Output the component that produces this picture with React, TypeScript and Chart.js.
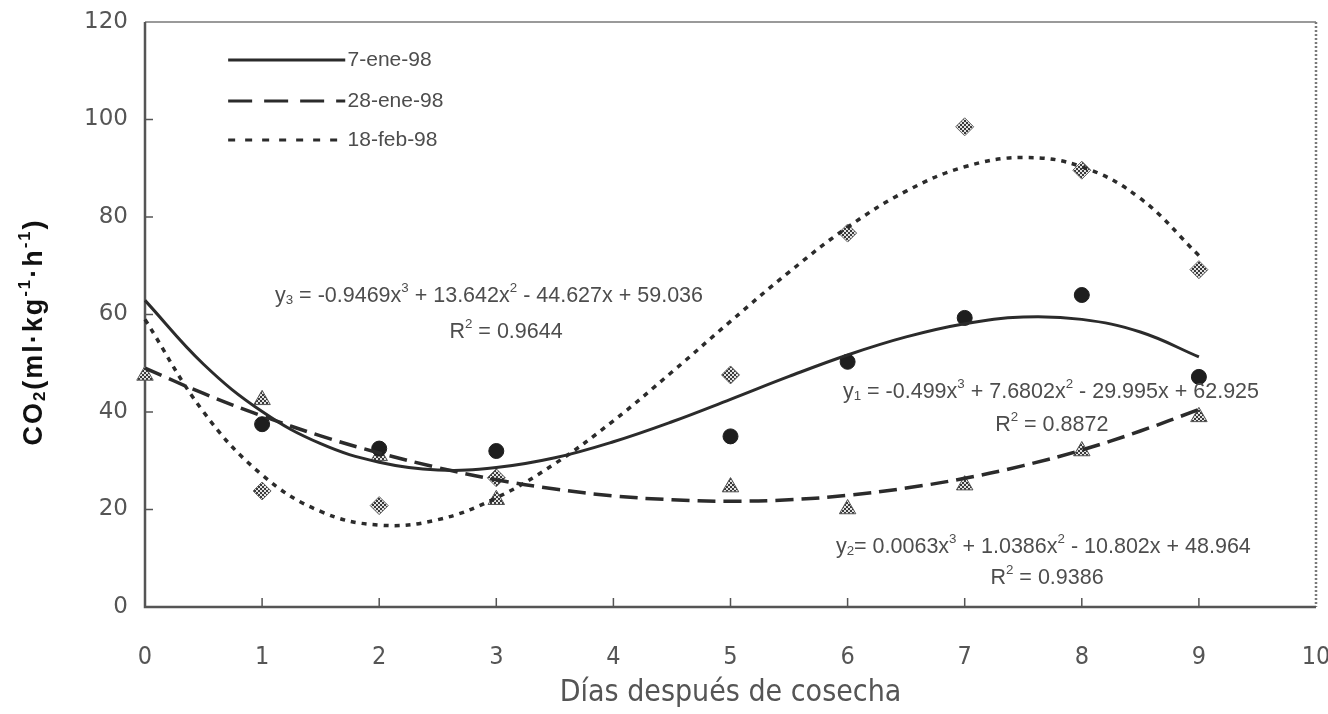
import React, { useEffect, useRef } from 'react';
import { Chart, registerables } from 'chart.js';

Chart.register(...registerables);

// ---- Data ----
const days7ene = [1, 2, 3, 5, 6, 7, 8, 9];
const co2_7ene = [37.5, 32.5, 32, 35, 50.3, 59.3, 64, 47.2];

const days28ene = [0, 1, 2, 3, 5, 6, 7, 8, 9];
const co2_28ene = [47.5, 42.5, 31, 22, 24.6, 20.1, 25, 32, 39];

const days18feb = [1, 2, 3, 5, 6, 7, 8, 9];
const co2_18feb = [23.8, 20.8, 26.5, 47.6, 76.7, 98.5, 89.6, 69.2];

// trend curves at half-day steps
const trendX = [0, 0.5, 1, 1.5, 2, 2.5, 3, 3.5, 4, 4.5, 5, 5.5, 6, 6.5, 7, 7.5, 8, 8.5, 9];
const trend7ene = [62.9, 49.8, 40.1, 33.5, 29.7, 28.1, 28.6, 30.6, 33.9, 38.0, 42.6, 47.3, 51.7, 55.4, 58.1, 59.5, 59.0, 56.4, 51.3];
const trend28ene = [49.0, 43.8, 39.2, 35.1, 31.6, 28.6, 26.1, 24.2, 22.8, 22.0, 21.7, 22.0, 22.9, 24.4, 26.4, 29.0, 32.2, 36.1, 40.5];
const trend18feb = [59.0, 40.0, 27.1, 19.6, 16.8, 17.9, 22.4, 29.4, 38.2, 48.2, 58.6, 68.7, 77.9, 85.3, 90.3, 92.2, 90.3, 83.8, 72.1];

const seriesLabels = ['7-ene-98', '28-ene-98', '18-feb-98'];
const xTitle = 'Días después de cosecha';

type Seg = [string, number]; // 0 normal, 1 superscript, -1 subscript
const yTitleSegs: Seg[] = [['CO', 0], ['2', -1], ['(ml·kg', 0], ['-1', 1], ['·h', 0], ['-1', 1], [')', 0]];
const eq3Segs: Seg[] = [['y', 0], ['3', -1], [' = -0.9469x', 0], ['3', 1], [' + 13.642x', 0], ['2', 1], [' - 44.627x + 59.036', 0]];
const r3Segs: Seg[] = [['R', 0], ['2', 1], [' = 0.9644', 0]];
const eq1Segs: Seg[] = [['y', 0], ['1', -1], [' = -0.499x', 0], ['3', 1], [' + 7.6802x', 0], ['2', 1], [' - 29.995x + 62.925', 0]];
const r1Segs: Seg[] = [['R', 0], ['2', 1], [' = 0.8872', 0]];
const eq2Segs: Seg[] = [['y', 0], ['2', -1], ['= 0.0063x', 0], ['3', 1], [' + 1.0386x', 0], ['2', 1], [' - 10.802x + 48.964', 0]];
const r2Segs: Seg[] = [['R', 0], ['2', 1], [' = 0.9386', 0]];

const INK = '#2b2b2b';
const TEXT = '#4d4d4d';
const FONT = '"Liberation Sans", Arial, sans-serif';
const NARROW = '"DejaVu Sans Condensed", "Liberation Sans Narrow", "Arial Narrow", "Liberation Sans", sans-serif';

function segWidth(ctx: CanvasRenderingContext2D, segs: Seg[], size: number, weight: string, family: string, spacing: number) {
  let w = 0;
  for (const [t, k] of segs) {
    const fs = k === 0 ? size : size * 0.62;
    ctx.font = `${weight} ${fs}px ${family}`;
    w += ctx.measureText(t).width + spacing * t.length;
  }
  return w;
}

function drawRich(ctx: CanvasRenderingContext2D, segs: Seg[], x: number, y: number, size: number, weight: string, family: string, color: string, spacing = 0) {
  ctx.fillStyle = color;
  ctx.textBaseline = 'middle';
  ctx.textAlign = 'left';
  (ctx as any).letterSpacing = `${spacing}px`;
  let cx = x;
  for (const [t, k] of segs) {
    const fs = k === 0 ? size : size * 0.62;
    ctx.font = `${weight} ${fs}px ${family}`;
    const dy = k === 1 ? -size * 0.36 : k === -1 ? size * 0.2 : 0;
    ctx.fillText(t, cx, y + dy);
    cx += ctx.measureText(t).width;
  }
  (ctx as any).letterSpacing = '0px';
}

function makePattern(): CanvasPattern | string {
  const c = document.createElement('canvas');
  c.width = 4;
  c.height = 4;
  const g = c.getContext('2d');
  if (!g) return '#888';
  g.fillStyle = '#e2e2e2';
  g.fillRect(0, 0, 4, 4);
  g.fillStyle = '#3a3a3a';
  g.fillRect(0, 0, 2, 2);
  g.fillRect(2, 2, 2, 2);
  return g.createPattern(c, 'repeat') || '#888';
}

const decorPlugin = {
  id: 'decor',
  beforeDatasetsDraw(chart: any) {
    const { ctx, chartArea: a, scales } = chart;
    const xs = scales.x;
    const ys = scales.y;
    ctx.save();
    ctx.lineCap = 'butt';
    ctx.strokeStyle = '#9a9a9a';
    ctx.lineWidth = 2;
    ctx.beginPath();
    ctx.moveTo(a.left, a.top);
    ctx.lineTo(a.right, a.top);
    ctx.stroke();
    ctx.setLineDash([2, 2]);
    ctx.strokeStyle = '#7a7a7a';
    ctx.lineWidth = 2.5;
    ctx.beginPath();
    ctx.moveTo(a.right, a.top);
    ctx.lineTo(a.right, a.bottom);
    ctx.stroke();
    ctx.setLineDash([]);
    ctx.strokeStyle = '#555';
    ctx.lineWidth = 2.5;
    ctx.beginPath();
    ctx.moveTo(a.left, a.top);
    ctx.lineTo(a.left, a.bottom);
    ctx.lineTo(a.right, a.bottom);
    ctx.stroke();
    ctx.lineWidth = 1.5;
    ctx.strokeStyle = '#555';
    ctx.beginPath();
    for (let v = 1; v <= 9; v++) {
      const px = xs.getPixelForValue(v);
      ctx.moveTo(px, a.bottom);
      ctx.lineTo(px, a.bottom - 9);
    }
    for (let v = 20; v <= 100; v += 20) {
      const py = ys.getPixelForValue(v);
      ctx.moveTo(a.left, py);
      ctx.lineTo(a.left + 8, py);
    }
    ctx.stroke();
    ctx.restore();
  },
  afterDraw(chart: any) {
    const { ctx, scales } = chart;
    const xs = scales.x;
    const ys = scales.y;
    const X = (v: number) => xs.getPixelForValue(v);
    const Y = (v: number) => ys.getPixelForValue(v);
    ctx.save();
    const legendRows = [112.2, 103.8, 95.8];
    const dashes = [[], [24, 12], [7, 10]];
    legendRows.forEach((yv, i) => {
      const py = Y(yv);
      ctx.strokeStyle = INK;
      ctx.lineWidth = 3;
      ctx.setLineDash(dashes[i]);
      ctx.beginPath();
      ctx.moveTo(X(0.71), py);
      ctx.lineTo(X(1.71), py);
      ctx.stroke();
      ctx.setLineDash([]);
      ctx.fillStyle = TEXT;
      ctx.font = `21px ${FONT}`;
      ctx.textBaseline = 'middle';
      ctx.textAlign = 'left';
      ctx.fillText(seriesLabels[i], X(1.73), py);
    });
    const eqSize = 21.5;
    drawRich(ctx, eq3Segs, X(1.11), Y(63.8), eqSize, '', FONT, TEXT);
    drawRich(ctx, r3Segs, X(2.6), Y(56.4), eqSize, '', FONT, TEXT);
    drawRich(ctx, eq1Segs, X(5.96), Y(44.1), eqSize, '', FONT, TEXT);
    drawRich(ctx, r1Segs, X(7.26), Y(37.3), eqSize, '', FONT, TEXT);
    drawRich(ctx, eq2Segs, X(5.9), Y(12.3), eqSize, '', FONT, TEXT);
    drawRich(ctx, r2Segs, X(7.22), Y(5.9), eqSize, '', FONT, TEXT);
    const tSize = 27;
    const sp = 2;
    const w = segWidth(ctx, yTitleSegs, tSize, 'bold', FONT, sp);
    ctx.translate(35, 332);
    ctx.rotate(-Math.PI / 2);
    drawRich(ctx, yTitleSegs, -w / 2, 0, tSize, 'bold', FONT, '#111', sp);
    ctx.restore();
  },
};

export default function App() {
  const ref = useRef<HTMLCanvasElement | null>(null);
  useEffect(() => {
    document.body.style.margin = '0';
    if (!ref.current) return;
    const pattern = makePattern();
    const pts = (xs: number[], ys: number[]) => xs.map((x, i) => ({ x, y: ys[i] }));
    const chart = new Chart(ref.current, {
      type: 'scatter',
      data: {
        datasets: [
          {
            type: 'line',
            label: seriesLabels[0],
            data: pts(trendX, trend7ene),
            borderColor: INK,
            borderWidth: 3,
            pointRadius: 0,
            tension: 0.4,
            fill: false,
            clip: false,
          } as any,
          {
            type: 'line',
            label: seriesLabels[1],
            data: pts(trendX, trend28ene),
            borderColor: INK,
            borderWidth: 3.5,
            borderDash: [18, 8],
            pointRadius: 0,
            tension: 0.4,
            fill: false,
            clip: false,
          } as any,
          {
            type: 'line',
            label: seriesLabels[2],
            data: pts(trendX, trend18feb),
            borderColor: INK,
            borderWidth: 3.5,
            borderDash: [5, 6],
            pointRadius: 0,
            tension: 0.4,
            fill: false,
            clip: false,
          } as any,
          {
            label: seriesLabels[0] + ' obs',
            data: pts(days7ene, co2_7ene),
            pointStyle: 'circle',
            pointRadius: 7.5,
            backgroundColor: '#1e1e1e',
            borderColor: '#1e1e1e',
            borderWidth: 1,
            clip: false,
          } as any,
          {
            label: seriesLabels[1] + ' obs',
            data: pts(days28ene, co2_28ene),
            pointStyle: 'triangle',
            pointRadius: 9.5,
            backgroundColor: pattern,
            borderColor: '#555',
            borderWidth: 1,
            clip: false,
          } as any,
          {
            label: seriesLabels[2] + ' obs',
            data: pts(days18feb, co2_18feb),
            pointStyle: 'rectRot',
            pointRadius: 9,
            backgroundColor: pattern,
            borderColor: '#666',
            borderWidth: 1,
            clip: false,
          } as any,
        ],
      },
      options: {
        animation: false,
        responsive: true,
        maintainAspectRatio: false,
        layout: { padding: { top: 22, right: 12, left: 0, bottom: 0 } },
        plugins: { legend: { display: false }, tooltip: { enabled: false }, title: { display: false } },
        scales: {
          x: {
            type: 'linear',
            min: 0,
            max: 10,
            grid: { display: false, drawTicks: false },
            border: { display: false },
            ticks: {
              stepSize: 1,
              padding: 35,
              color: '#555',
              font: { family: NARROW, size: 25 },
            },
            title: {
              display: true,
              text: xTitle,
              color: '#555',
              font: { family: NARROW, size: 30 },
              padding: { top: 0, bottom: 3 },
            },
            afterFit: (s: any) => {
              s.height = 107;
              s.paddingLeft = 0;
              s.paddingRight = 0;
            },
          },
          y: {
            type: 'linear',
            min: 0,
            max: 120,
            grid: { display: false, drawTicks: false },
            border: { display: false },
            ticks: {
              stepSize: 20,
              padding: 17,
              color: '#555',
              font: { family: '"DejaVu Sans", sans-serif', size: 23 },
            },
            afterFit: (s: any) => {
              s.width = 145;
              s.paddingTop = 0;
              s.paddingBottom = 0;
            },
          },
        },
      },
      plugins: [decorPlugin],
    });
    return () => chart.destroy();
  }, []);
  return (
    <div style={{ width: 1328, height: 714, position: 'relative' }}>
      <canvas ref={ref} />
    </div>
  );
}
